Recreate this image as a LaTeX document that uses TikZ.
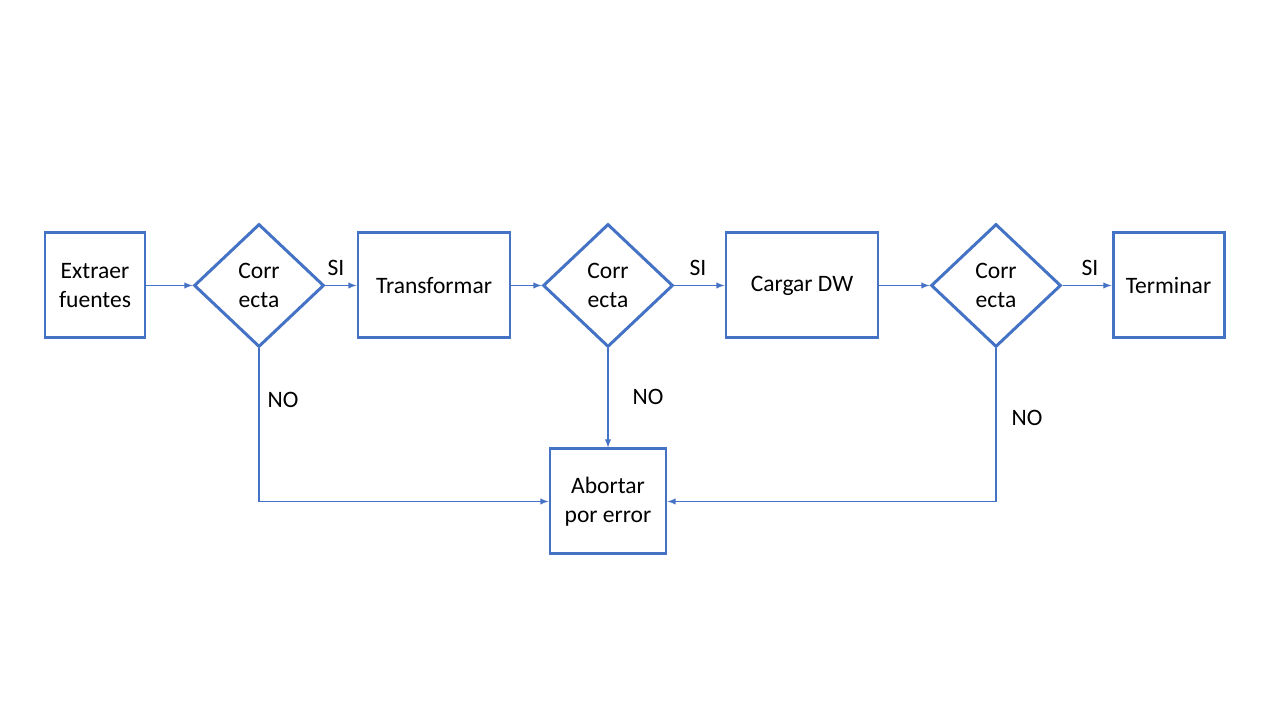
\documentclass[tikz,border=0pt]{standalone}
\usepackage{fontspec}
\setmainfont{Carlito}
\usetikzlibrary{arrows,shapes}
\definecolor{azul}{RGB}{68,114,196}
\tikzstyle{paso}=[rectangle,draw=azul,line width=1.7pt,minimum height=2.1cm,align=center,font=\fontsize{13.4}{16.5}\selectfont]
\tikzstyle{decide}=[diamond,draw=azul,line width=1.7pt,minimum width=2.6cm,minimum height=2.46cm,inner sep=0pt,align=center,font=\fontsize{13.4}{16.5}\selectfont]
\tikzstyle{flujo}=[->,>=latex,draw=azul,line width=0.6pt]
\tikzstyle{etiq}=[font=\fontsize{13.4}{16.5}\selectfont]

\begin{document}
\begin{tikzpicture}[flujo]
\useasboundingbox (0,0) rectangle (25.56,14.36);
\node[paso,minimum width=2cm] (E) at (1.9,8.65) {Extraer\\fuentes};
\node[decide] (C1) at (5.18,8.65) {Corr\\ecta};
\node[paso,minimum width=3.04cm] (T) at (8.68,8.65) {Transformar};
\node[decide] (C2) at (12.16,8.65) {Corr\\ecta};
\node[paso,minimum width=3.04cm] (D) at (16.04,8.65) {Cargar DW};
\node[decide] (C3) at (19.92,8.65) {Corr\\ecta};
\node[paso,minimum width=2.22cm] (F) at (23.37,8.65) {Terminar};
\node[paso,minimum width=2.32cm] (A) at (12.16,4.33) {Abortar\\por error};
\node[etiq] (s1) at (6.72,9.0) {SI};
\node[etiq] (s2) at (13.96,9.0) {SI};
\node[etiq] (s3) at (21.8,9.0) {SI};
\node[etiq] (n1) at (5.66,6.36) {NO};
\node[etiq] (n2) at (12.96,6.42) {NO};
\node[etiq] (n3) at (20.54,6.0) {NO};
\draw(E)--(C1);\draw(C1)--(T);\draw(T)--(C2);\draw(C2)--(D);\draw(D)--(C3);\draw(C3)--(F);
\draw(C1.south)|-(A.west);\draw(C2.south)--(A.north);\draw(C3.south)|-(A.east);
\end{tikzpicture}
\end{document}
